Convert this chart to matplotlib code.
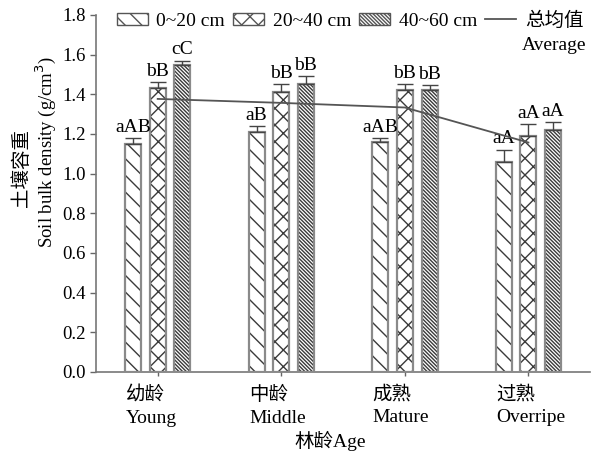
import matplotlib.pyplot as plt
import numpy as np
from matplotlib.patches import Patch
from matplotlib.lines import Line2D

plt.rcParams['font.family'] = ['Liberation Serif', 'Noto Sans CJK SC']
plt.rcParams['hatch.linewidth'] = 1.0

# 林龄分组
ages_cn = ['幼龄', '中龄', '成熟', '过熟']
ages_en = ['Young', 'Middle', 'Mature', 'Overripe']

# 各土层容重均值及标准误 (g/cm3)
depths = ['0~20 cm', '20~40 cm', '40~60 cm']
bd_0_20 = [1.15, 1.21, 1.16, 1.06]
bd_20_40 = [1.43, 1.41, 1.42, 1.19]
bd_40_60 = [1.55, 1.45, 1.42, 1.22]
se_0_20 = [0.03, 0.03, 0.02, 0.06]
se_20_40 = [0.03, 0.04, 0.03, 0.06]
se_40_60 = [0.02, 0.04, 0.025, 0.04]

# 显著性字母
sig_0_20 = ['aAB', 'aB', 'aAB', 'aA']
sig_20_40 = ['bB', 'bB', 'bB', 'aA']
sig_40_60 = ['cC', 'bB', 'bB', 'aA']

values = [bd_0_20, bd_20_40, bd_40_60]
errors = [se_0_20, se_20_40, se_40_60]
letters = [sig_0_20, sig_20_40, sig_40_60]
hatches = ['\\\\', 'xx', '\\' * 9]

fig = plt.figure(figsize=(5.92, 4.54), dpi=100)
ax = fig.add_axes([0.162, 0.181, 0.835, 0.786])

x = np.arange(len(ages_en))
width = 0.13
offsets = [-0.2, 0.0, 0.2]

for vals, errs, labs, hatch, off in zip(values, errors, letters, hatches, offsets):
    xs = x + off
    # 填充纹理
    ax.bar(xs, vals, width, color='white', edgecolor='#3a3a3a', hatch=hatch, linewidth=0, zorder=2)
    # 灰色边框
    ax.bar(xs, vals, width, fill=False, edgecolor='#8a8a8a', linewidth=1.6, zorder=3)
    ax.errorbar(xs, vals, yerr=[np.zeros(len(vals)), errs], fmt='none', ecolor='#444444',
                elinewidth=1.0, capsize=6, capthick=1.0, zorder=4)
    for xi, v, e, t in zip(xs, vals, errs, labs):
        ax.text(xi, v + e + 0.012, t, ha='center', va='bottom', fontsize=14, zorder=5)

# 总均值折线
avg = np.mean(values, axis=0)
ax.plot(x, avg, color='#555555', linewidth=1.3, zorder=6)

ax.set_xlim(-0.5, 3.5)
ax.set_ylim(0, 1.8)
ax.set_yticks(np.arange(0, 1.81, 0.2))
ax.set_yticklabels([f'{v:.1f}' for v in np.arange(0, 1.81, 0.2)], fontsize=13.5)
ax.set_xticks(x)
ax.set_xticklabels([])
ax.tick_params(axis='both', colors='#666666', labelcolor='black', length=4, width=1.0)
ax.tick_params(axis='x', length=3)
for s in ['top', 'right']:
    ax.spines[s].set_visible(False)
for s in ['left', 'bottom']:
    ax.spines[s].set_color('#777777')
    ax.spines[s].set_linewidth(1.2)

# 横轴分组标签（左对齐）
for xi, cn, en in zip(x, ages_cn, ages_en):
    ax.annotate(f'{cn}\n{en}', xy=(xi - 0.26, 0), xycoords=('data', 'axes fraction'),
                xytext=(0, -10), textcoords='offset points', ha='left', va='top',
                fontsize=14, linespacing=1.45)

fig.text(0.557, 0.028, '林龄Age', ha='center', va='center', fontsize=14)
fig.text(0.037, 0.63, '土壤容重', rotation=90, ha='center', va='center', fontsize=14)
fig.text(0.077, 0.665, 'Soil bulk density (g/cm$^3$)', rotation=90, ha='center', va='center', fontsize=13.5)

handles = [Patch(facecolor='white', edgecolor='#555555', hatch=h, linewidth=1.0) for h in hatches]
handles.append(Line2D([0], [0], color='#555555', linewidth=1.3))
fig.legend(handles, depths + ['总均值'], loc='upper left', bbox_to_anchor=(0.197, 0.975),
           ncol=4, frameon=False, fontsize=14, borderpad=0, borderaxespad=0,
           handlelength=1.6, handleheight=0.55, handletextpad=0.45, columnspacing=0.4)
fig.text(0.99, 0.90, 'Average', ha='right', va='center', fontsize=14)

fig.savefig('out.png', dpi=100)
